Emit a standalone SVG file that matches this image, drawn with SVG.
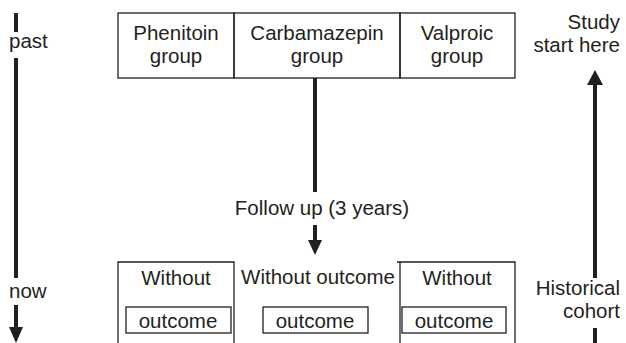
<svg xmlns="http://www.w3.org/2000/svg" width="626" height="343" viewBox="0 0 626 343">
<defs>
<style>
text{font-family:"Liberation Sans",Arial,sans-serif;font-size:20.5px;fill:#231f20}
.c{text-anchor:middle}
.r{text-anchor:end}
.box{fill:none;stroke:#231f20;stroke-width:1.3}
.ln{stroke:#231f20;stroke-width:4;fill:none}
.head{fill:#231f20}
</style>
</defs>
<rect width="626" height="343" fill="#fff"/>
<g id="timeline">
<line class="ln" x1="16" y1="13" x2="16" y2="32"/>
<text x="9" y="48">past</text>
<line class="ln" x1="16" y1="58" x2="16" y2="278"/>
<text x="9" y="298">now</text>
<line class="ln" x1="16" y1="305" x2="16" y2="330"/>
<polygon class="head" points="9,327 23,327 16,343"/>
</g>
<g id="phenitoin">
<rect class="box" x="118" y="13" width="116" height="65"/>
<text class="c" x="176" y="40">Phenitoin</text>
<text class="c" x="176" y="63">group</text>
</g>
<g id="carbamazepin">
<rect class="box" x="234" y="13" width="166" height="65"/>
<text class="c" x="317" y="40">Carbamazepin</text>
<text class="c" x="317" y="63">group</text>
</g>
<g id="valproic">
<rect class="box" x="400" y="13" width="115" height="65"/>
<text class="c" x="457" y="40">Valproic</text>
<text class="c" x="457" y="63">group</text>
</g>
<g id="study">
<text class="r" x="620" y="29">Study</text>
<text class="r" x="620" y="52">start here</text>
</g>
<g id="historical">
<text class="r" x="620" y="295">Historical</text>
<text class="r" x="620" y="318">cohort</text>
</g>
<g id="out1">
<path class="box" d="M118,345 V262 H234 V345"/>
<text class="c" x="176" y="285">Without</text>
<rect class="box" x="126" y="307" width="105" height="26"/>
<text class="c" x="178" y="328">outcome</text>
</g>
<g id="out2">
<text class="c" x="318" y="284">Without outcome</text>
<rect class="box" x="263" y="307" width="105" height="26"/>
<text class="c" x="315" y="328">outcome</text>
</g>
<g id="out3">
<path class="box" d="M397,262 H515 V345 M400,262 V345"/>
<text class="c" x="457" y="285">Without</text>
<rect class="box" x="402" y="307" width="104" height="26"/>
<text class="c" x="454" y="328">outcome</text>
</g>
<g id="connectors">
<line class="ln" x1="315" y1="78" x2="315" y2="192"/>
<text class="c" x="322" y="215">Follow up (3 years)</text>
<line class="ln" x1="315" y1="225" x2="315" y2="242"/>
<polygon class="head" points="308,240 322,240 315,255"/>
<line class="ln" x1="595" y1="82" x2="595" y2="278"/>
<polygon class="head" points="587,85 603,85 595,70"/>
<line class="ln" x1="595" y1="328" x2="595" y2="343"/>
</g>
</svg>
